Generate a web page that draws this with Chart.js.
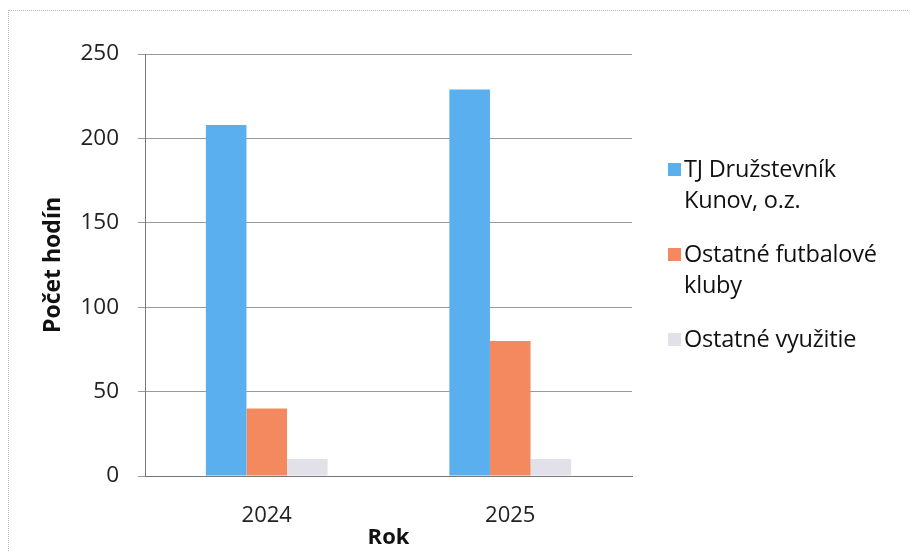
<!DOCTYPE html>
<html>
<head>
<meta charset="utf-8">
<script src="https://cdn.jsdelivr.net/npm/chart.js@4"></script>
<style>
  html, body { margin: 0; padding: 0; background: #fff; }
  #wrap { position: relative; width: 910px; height: 551px; }
  #frame { position: absolute; left: 8px; top: 10px; width: 900px; height: 545px;
           border-top: 1px dotted #b8b8b8; border-left: 1px dotted #b8b8b8; box-sizing: border-box; }
  #legend { position: absolute; left: 666px; top: 153px; width: 250px;
            font-family: "Open Sans", "Noto Sans", sans-serif; font-size: 23.5px; color: #111; line-height: 31px; }
  .item { position: relative; padding-left: 18px; margin-bottom: 23px; letter-spacing: -0.2px; }
  .sw { position: absolute; left: 2px; top: 10px; width: 13px; height: 13px; }
</style>
</head>
<body>
<div id="wrap">
  <div id="frame"></div>
  <canvas id="c" width="910" height="551"></canvas>
  <div id="legend"></div>
</div>
<script>
// údaje z grafu
const years = ['2024', '2025'];
const seriesNames = [['TJ Družstevník', 'Kunov, o.z.'], ['Ostatné futbalové', 'kluby'], ['Ostatné využitie']];
const tjKunov = [208, 229];
const ostatneKluby = [40, 80];
const ostatneVyuzitie = [10, 10];
const colors = ['#5aafef', '#f4895f', '#e2e1ea'];

const seriesValues = [tjKunov, ostatneKluby, ostatneVyuzitie];

const ctx = document.getElementById('c').getContext('2d');
const chart = new Chart(ctx, {
  type: 'bar',
  data: {
    labels: years,
    datasets: seriesValues.map(function (vals, i) {
      return {
        label: seriesNames[i].join(' '),
        data: vals,
        backgroundColor: colors[i],
        borderWidth: 0,
        categoryPercentage: 0.5,
        barPercentage: 1.0
      };
    })
  },
  options: {
    responsive: false,
    animation: false,
    layout: { padding: { left: 36, right: 278, top: 54, bottom: 0 } },
    plugins: { legend: { display: false }, tooltip: { enabled: false } },
    scales: {
      x: {
        grid: { display: false },
        border: { color: '#777', width: 1 },
        ticks: { color: '#222', font: { family: 'Open Sans', size: 22 }, padding: 19 },
        title: { display: true, text: 'Rok', color: '#111',
                 font: { family: 'Open Sans', size: 22, weight: 'bold' }, padding: { top: 0, bottom: 0 } },
        afterFit: function (s) { s.height = 75; }
      },
      y: {
        min: 0, max: 250,
        ticks: { stepSize: 50, color: '#222', font: { family: 'Open Sans', size: 22.5 }, padding: 19 },
        grid: { color: '#9a9a9a', lineWidth: 1, drawTicks: true, tickLength: 7 },
        border: { color: '#777', width: 1 },
        title: { display: true, text: 'Počet hodín', color: '#111',
                 font: { family: 'Open Sans', size: 23, weight: 'bold' }, padding: { bottom: 0 } },
        afterFit: function (s) { s.width = 109; }
      }
    }
  }
});

// legenda vpravo (zalomený text ako v origináli)
const legend = document.getElementById('legend');
seriesNames.forEach(function (name, i) {
  const div = document.createElement('div');
  div.className = 'item';
  div.innerHTML = '<span class="sw" style="background:' + colors[i] + '"></span>' + name.join('<br>');
  legend.appendChild(div);
});
</script>
</body>
</html>
